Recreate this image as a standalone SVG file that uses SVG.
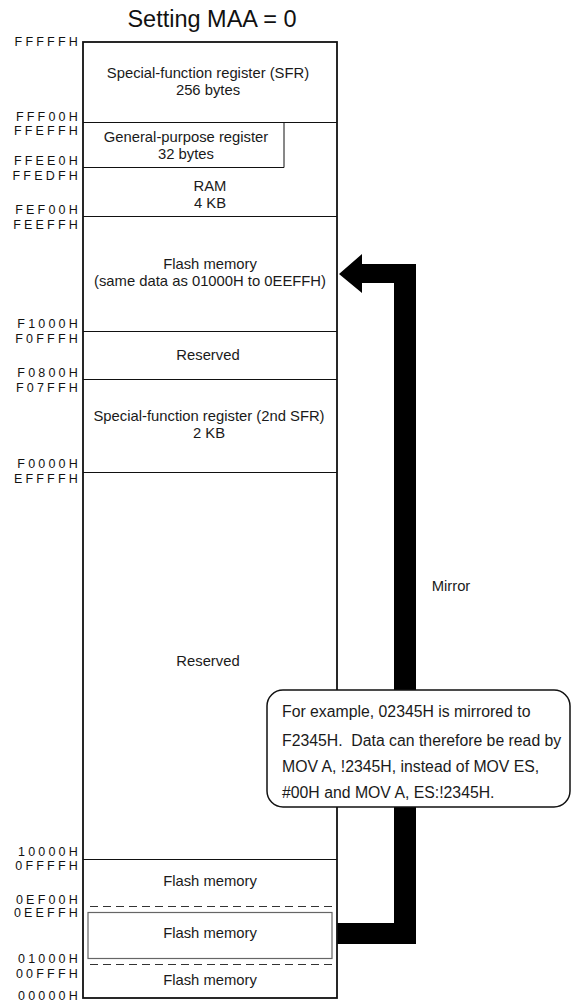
<svg xmlns="http://www.w3.org/2000/svg" width="571" height="1006" viewBox="0 0 571 1006">
<style>
.addr{font-family:"Liberation Sans",Arial,sans-serif;font-size:12.5px;letter-spacing:3.2px;fill:#111;text-anchor:end}
.t{font-family:"Liberation Sans",Arial,sans-serif;font-size:14.8px;fill:#1a1a1a;text-anchor:middle}
.c{font-family:"Liberation Sans",Arial,sans-serif;font-size:15.8px;fill:#1a1a1a}
.ln{stroke:#111;stroke-width:1;fill:none}
.dash{stroke:#333;stroke-width:1;stroke-dasharray:8,5;fill:none}
</style>
<rect width="571" height="1006" fill="#fff"/>
<text x="212" y="27" font-family="Liberation Sans, Arial, sans-serif" font-size="23.5" fill="#111" text-anchor="middle">Setting MAA = 0</text>

<g id="addresses">
<text class="addr" x="81" y="46">FFFFFH</text>
<text class="addr" x="81" y="121">FFF00H</text>
<text class="addr" x="81" y="135">FFEFFH</text>
<text class="addr" x="81" y="165">FFEE0H</text>
<text class="addr" x="81" y="180">FFEDFH</text>
<text class="addr" x="81" y="214">FEF00H</text>
<text class="addr" x="81" y="229">FEEFFH</text>
<text class="addr" x="81" y="328">F1000H</text>
<text class="addr" x="81" y="343">F0FFFH</text>
<text class="addr" x="81" y="377">F0800H</text>
<text class="addr" x="81" y="392">F07FFH</text>
<text class="addr" x="81" y="468">F0000H</text>
<text class="addr" x="81" y="483">EFFFFH</text>
<text class="addr" x="81" y="856">10000H</text>
<text class="addr" x="81" y="870">0FFFFH</text>
<text class="addr" x="81" y="904">0EF00H</text>
<text class="addr" x="81" y="917">0EEFFH</text>
<text class="addr" x="81" y="963">01000H</text>
<text class="addr" x="81" y="978">00FFFH</text>
<text class="addr" x="81" y="1000">00000H</text>
</g>

<g id="connectors">
<path d="M339,274 L362,254 L362,264 L416,264 L416,944 L337,944 L337,923 L394,923 L394,283 L362,283 L362,293 Z" fill="#000"/>
<text class="t" x="451" y="591">Mirror</text>
</g>

<g id="memory-map">
<rect x="83" y="42" width="254" height="956" fill="none" stroke="#111" stroke-width="1.8"/>
</g>

<g id="sfr">
<line class="ln" x1="83" y1="122.5" x2="337" y2="122.5"/>
<text class="t" x="208" y="78">Special-function register (SFR)</text>
<text class="t" x="208" y="95">256 bytes</text>
</g>

<g id="gpr">
<polyline class="ln" points="284,122.5 284,167.5 83,167.5"/>
<text class="t" x="186" y="142">General-purpose register</text>
<text class="t" x="186" y="159">32 bytes</text>
</g>

<g id="ram">
<line class="ln" x1="83" y1="216.5" x2="337" y2="216.5"/>
<text class="t" x="210" y="191">RAM</text>
<text class="t" x="210" y="208">4 KB</text>
</g>

<g id="flash-mirror">
<line class="ln" x1="83" y1="331.5" x2="337" y2="331.5"/>
<text class="t" x="210" y="269">Flash memory</text>
<text class="t" x="210" y="286">(same data as 01000H to 0EEFFH)</text>
</g>

<g id="reserved-1">
<line class="ln" x1="83" y1="379.5" x2="337" y2="379.5"/>
<text class="t" x="208" y="360">Reserved</text>
</g>

<g id="sfr2">
<line class="ln" x1="83" y1="472.5" x2="337" y2="472.5"/>
<text class="t" x="209" y="421">Special-function register (2nd SFR)</text>
<text class="t" x="209" y="438">2 KB</text>
</g>

<g id="reserved-2">
<line class="ln" x1="83" y1="859.5" x2="337" y2="859.5"/>
<text class="t" x="208" y="666">Reserved</text>
</g>

<g id="flash-top">
<line class="dash" x1="90" y1="906.5" x2="337" y2="906.5"/>
<text class="t" x="210" y="886">Flash memory</text>
</g>

<g id="flash-mid">
<rect x="88" y="912.5" width="244" height="46" fill="none" stroke="#666" stroke-width="1.2"/>
<text class="t" x="210" y="938">Flash memory</text>
</g>

<g id="flash-low">
<line class="dash" x1="90" y1="964.5" x2="337" y2="964.5"/>
<text class="t" x="210" y="985">Flash memory</text>
</g>

<g id="callout">
<rect x="267" y="690" width="303" height="117" rx="16" ry="16" fill="#fff" stroke="#111" stroke-width="1.5"/>
<text class="c" x="282" y="717">For example, 02345H is mirrored to</text>
<text class="c" x="282" y="745.5" xml:space="preserve">F2345H.  Data can therefore be read by</text>
<text class="c" x="282" y="772">MOV A, !2345H, instead of MOV ES,</text>
<text class="c" x="282" y="797.5">#00H and MOV A, ES:!2345H.</text>
</g>
</svg>
